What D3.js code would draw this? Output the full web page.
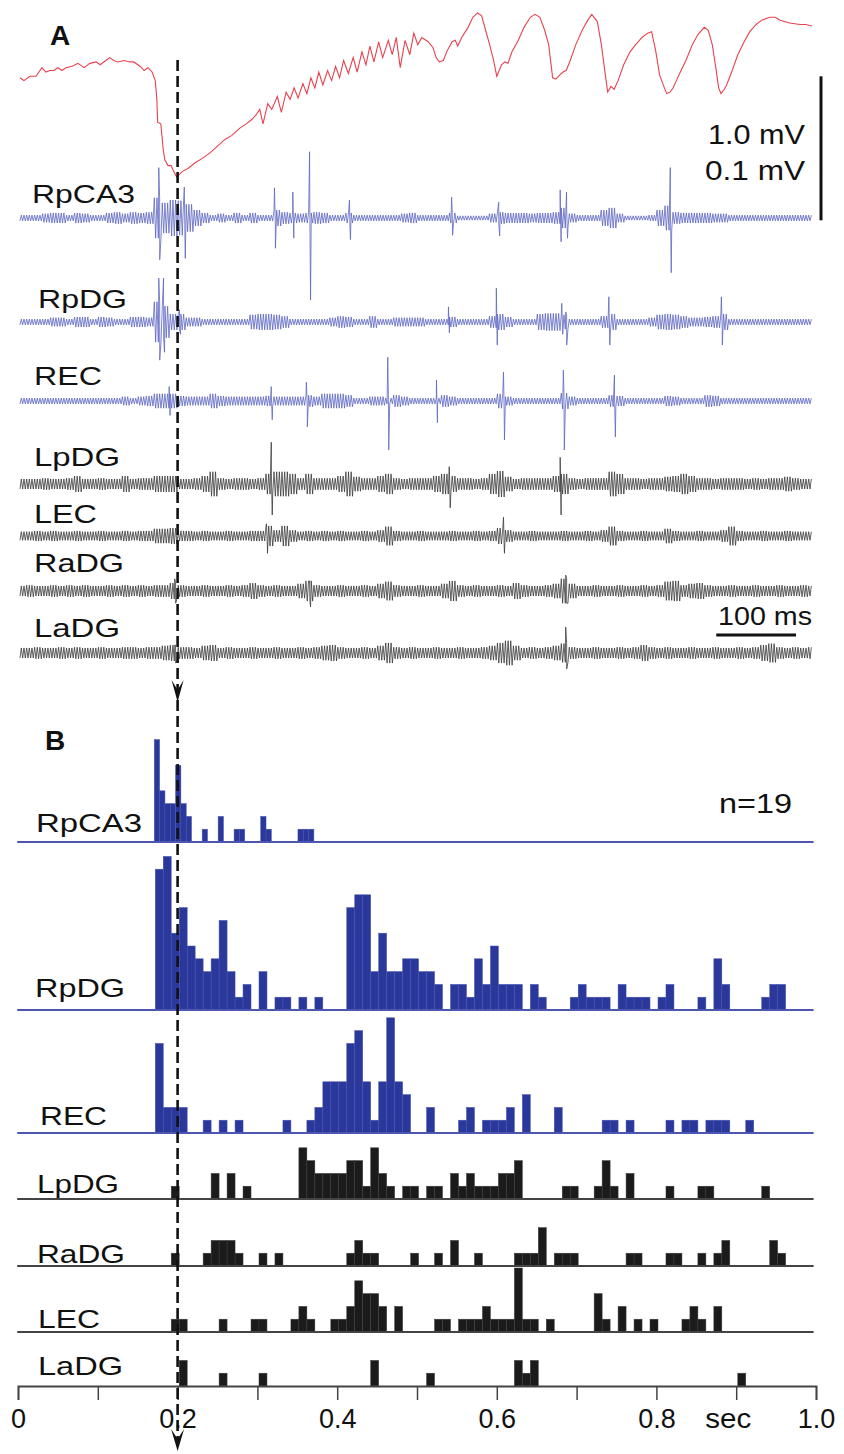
<!DOCTYPE html>
<html><head><meta charset="utf-8">
<script src="https://cdn.jsdelivr.net/npm/d3@7"></script>
<style>html,body{margin:0;padding:0;background:#fff;}svg{display:block;font-family:"Liberation Sans",Arial,sans-serif;}</style>
</head><body><svg id="c" width="844" height="1454"></svg>
<script>
// ---------------- DATA ----------------
// Panel A: surface/EEG trace (red), time in ms, value in mV
const redTimeMs = [2.5,7.5,15,22.6,30,35,40,45,50,55,60,68,75,83,90,98,103,110,115,120,125,133,140,145,153,158,163,168,172,174,175,179,182,184,188,192,195,199,206,213,222,231,241,251,259,268,278,286,293,298,303,307,313,318,325,330,336,341,346,351,357,362,367,372,377,382,388,393,398,403,408,414,420,425,431,436,441,446,452,457,464,469,474,479,485,491,496,501,506,514,520,524,528,533,538,544,548,551,556,564,570,576,581,586,591,596,600,603,606,610,614,619,627,634,642,648,654,660,665,670,674,679,683,687,692,699,707,714,719,726,731,736,739,743,747,752,759,767,774,782,789,794,799,804,810,813,817,821,825,830,837,845,852,860,865,870,875,878,881,885,888,895,902,910,917,925,932,942,949,955,967,980,987,995];
const redMv = [0.71,0.69,0.72,0.72,0.78,0.75,0.76,0.76,0.78,0.76,0.78,0.79,0.81,0.78,0.81,0.82,0.80,0.83,0.85,0.83,0.82,0.83,0.82,0.82,0.79,0.76,0.78,0.75,0.69,0.56,0.40,0.39,0.21,0.14,0.10,0.10,0.06,0.02,0.06,0.08,0.12,0.15,0.19,0.24,0.28,0.31,0.36,0.39,0.42,0.45,0.49,0.39,0.53,0.49,0.58,0.47,0.61,0.56,0.64,0.57,0.67,0.60,0.71,0.64,0.75,0.66,0.76,0.69,0.79,0.71,0.83,0.74,0.85,0.75,0.89,0.80,0.93,0.82,0.96,0.85,0.97,0.87,0.99,0.78,0.97,0.87,1.02,0.94,0.99,0.96,0.92,0.85,0.82,0.83,0.90,0.96,0.97,0.93,0.99,1.06,1.13,1.16,1.14,1.04,0.94,0.83,0.72,0.76,0.80,0.82,0.81,0.89,0.97,1.06,1.13,1.15,1.13,1.04,0.94,0.71,0.70,0.73,0.75,0.76,0.83,0.94,1.04,1.11,1.15,1.10,0.94,0.73,0.61,0.65,0.63,0.69,0.80,0.89,0.94,0.99,1.02,1.03,0.90,0.73,0.64,0.60,0.61,0.64,0.69,0.75,0.83,0.94,1.01,1.06,1.04,0.94,0.76,0.64,0.60,0.63,0.66,0.76,0.87,0.96,1.03,1.08,1.11,1.13,1.13,1.11,1.09,1.08,1.08,1.07];

// Panel A: depth traces, amplitude envelope (µV) per 10 ms bin, 0..1 s
const traceNames = ["RpCA3","RpDG","REC","LpDG","LEC","RaDG","LaDG"];
const envRpCA3 = [2,2,2,3,3.5,3.5,2,3.5,3,2, 2,3.5,4,3,4,3.5,4,14,10.5,12.5, 12,9.5,5.5,3.5,2,3,2,3.5,2,3.5, 2,2,5.5,4,3.5,3,3.5,4,3.5,2, 2,3.5,2,2,2,2,2,2,3,3.5, 2,2,2,2,3.5,1.5,1.5,1.5,1.5,3, 4,3.5,3.5,3.5,3,3.5,3.5,4,7,3, 2,2,2,5.5,7,3,1.5,1.5,1.5,2, 5.5,8.5,4,3.5,3.5,3.5,3.5,3,3,2, 2,2,2,2,2,2,2,2,2,2];
const envRpDG = [2,2,2,2,3,3,2,3.5,3.5,2, 3.5,3,2,2,3.5,3.5,3,14,11,5.5, 5.5,3,3,2,2,2,2,2,2,5, 5.5,5.5,5,4,2,2,2,2,2,3, 4,3.5,2,2,4,2,2,3,3,3, 3,2,2,2,3.5,2,2,2,2,4, 5.5,3.5,2,2,2,5.5,6,6,5,2, 2,2,2,4,5.5,2,2,2,2,3, 5,5.5,5,4,3,3,3.5,4,5.5,2, 2,2,2,2,2,2,2,2,2,2];
const envREC = [2,2,2,2,2,2,2,2,2,2, 2,2,2,3,2,3,3.5,5,5,5, 3.5,3,3,3,5,3.5,3,3,3,3, 3,3.5,3,3,3,3,4,3,5,5, 5,4,2,2,3,3,2,4,3,2, 2,2,2,4,3,2,2,2,2,2, 5,3,2,2,2,2,2,2,5.5,3, 2,2,2,2,4,3.5,2,2,2,2, 2,3.5,3,2,2,2,4,3.5,2,2, 2,2,2,2,2,2,2,2,2,2];
const envLpDG = [3.5,3.5,3.5,4,3.5,3.5,4,5.5,3.5,3.5, 4,3.5,3.5,5.5,3.5,4,4,5.5,5.5,5.5, 3.5,3.5,4,5.5,8.5,4,3.5,4,4,3.5, 4,7,8.5,8.5,7,4,7,4,4,4, 5.5,8.5,5,4,4,5.5,7,4,3.5,4, 4,4,5.5,7,5.5,4,4,3.5,4,7, 9,5,3.5,4,4,4,4,5.5,7,4, 3.5,4,4,4,8.5,7,4,4,3.5,4, 4,5,5.5,7,5.5,4,4,3.5,4,4, 4,3.5,4,3.5,4,4,5,4,3.5,3.5];
const envLEC = [3,3,3.5,3,3.5,3,3,3.5,3,3, 3.5,3,3,3.5,3,3.5,3.5,5,5,5.5, 3.5,3.5,3,3.5,3,3,3.5,3,3,3.5, 3.5,7,4,7,4,3,3.5,3,3.5,3, 3.5,3,3,3.5,3,4,6.5,3.5,3,3, 3.5,3,3,3,3.5,3,3,3.5,3,3.5, 5.5,4,3,3,3.5,3,3,3,3.5,3, 3,3.5,3,4,6.5,3.5,3,3,3.5,3, 3,5,3.5,3,3,3.5,3,3,4,6.5, 3.5,3,3,3.5,3,3,3.5,3,3,3];
const envRaDG = [3.5,4,3.5,3.5,4,3.5,4,3.5,4,3.5, 3.5,4,3.5,4,3.5,4,3.5,4,4,5.5, 4,3.5,3.5,4,3.5,3.5,4,3.5,4,5.5, 4,3.5,4,3.5,3.5,5,7,4,3.5,3.5, 4,3.5,3.5,4,3.5,5,6.5,4,3.5,3.5, 4,3.5,3.5,5,7,4,3.5,4,3.5,3.5, 4,3.5,5.5,4,3.5,3.5,4,5,8.5,5, 3.5,3.5,4,3.5,3.5,4,3.5,3.5,4,3.5, 4,6.5,7,4,5,5.5,4,3.5,3.5,4, 3.5,3.5,4,3.5,3.5,4,3.5,3.5,4,3.5];
const envLaDG = [3.5,3.5,4,3.5,3.5,4,3.5,4,3.5,3.5, 4,3.5,3.5,4,4,3.5,4,4,5,5.5, 4,4,3.5,5,5.5,3.5,4,3.5,3.5,4, 3.5,3.5,4,3.5,3.5,4,3.5,4,5,5.5, 4,3.5,3.5,4,3.5,5,7,4,3.5,4, 3.5,3.5,4,3.5,3.5,4,3.5,3.5,4,5, 7,8.5,5,3.5,4,3.5,4,5,6.5,4, 3.5,3.5,4,3.5,3.5,4,3.5,4,5.5,4, 3.5,4,3.5,3.5,4,3.5,3.5,4,3.5,3.5, 4,3.5,4,5.5,6.5,4,3.5,4,3.5,4];
// isolated large deflections: [time s, upward µV, downward µV]
const spkRpCA3 = [[0.177,35,29],[0.209,21.5,28],[0.322,21,21],[0.345,18,14],[0.366,46,57],[0.416,12.5,15],[0.544,14.5,12],[0.603,11,12.5],[0.680,19.5,16.5],[0.688,18,14],[0.818,35,38]];
const spkRpDG = [[0.177,30.5,26.5],[0.183,30.5,21],[0.203,8.5,8.5],[0.540,10.5,7.5],[0.600,23.5,16],[0.682,13,8.5],[0.687,7,16],[0.741,17.5,16],[0.882,17.5,16]];
const spkREC = [[0.190,10,10],[0.318,10,13],[0.362,13,18],[0.464,30.5,34],[0.525,14.5,15],[0.609,20,27],[0.684,21.5,34],[0.748,18,25]];
const spkLpDG = [[0.318,29,21.5],[0.541,12,16.5],[0.680,18.5,21.5]];
const spkLEC = [[0.312,8.5,12],[0.609,13,12]];
const spkRaDG = [[0.197,8.5,8.5],[0.366,7,11],[0.687,11,8.5]];
const spkLaDG = [[0.197,5.5,7],[0.687,18,11]];

// Panel B: peri-event histograms, [bin index, count]
const histNames = ["RpCA3","RpDG","REC","LpDG","RaDG","LEC","LaDG"];
const histRpCA3 = [[0,8],[1,4],[2,3],[3,3],[4,6],[5,3],[6,2],[9,1],[12,2],[15,1],[16,1],[20,2],[21,1],[27,1],[28,1],[29,1]];
const histRpDG = [[0,11],[1,12],[2,6],[3,8],[4,5],[5,4],[6,3],[7,4],[8,7],[9,3],[10,1],[11,2],[13,3],[15,1],[16,1],[18,1],[20,1],[24,8],[25,9],[26,9],[27,3],[28,6],[29,3],[30,3],[31,4],[32,4],[33,3],[34,3],[35,2],[37,2],[38,2],[39,1],[40,4],[41,2],[42,5],[43,2],[44,2],[45,2],[47,2],[48,1],[52,1],[53,2],[54,1],[55,1],[56,1],[58,2],[59,1],[60,1],[61,1],[63,1],[64,2],[68,1],[70,4],[71,2],[76,1],[77,2],[78,2]];
const histREC = [[0,7],[1,2],[2,2],[3,2],[6,1],[8,1],[10,1],[16,1],[19,1],[20,2],[21,4],[22,4],[23,4],[24,7],[25,8],[26,4],[27,1],[28,4],[29,9],[30,4],[31,3],[34,2],[38,1],[39,2],[41,1],[42,1],[43,1],[44,2],[46,3],[50,2],[56,1],[57,1],[59,1],[64,1],[66,1],[67,1],[69,1],[70,1],[71,1],[74,1]];
const histLpDG = [[2,1],[7,2],[9,2],[11,1],[18,4],[19,3],[20,2],[21,2],[22,2],[23,2],[24,3],[25,3],[26,1],[27,4],[28,2],[29,1],[31,1],[32,1],[34,1],[35,1],[37,2],[38,1],[39,2],[40,1],[41,1],[42,1],[43,2],[44,2],[45,3],[51,1],[52,1],[55,1],[56,3],[57,1],[59,2],[64,1],[68,1],[69,1],[76,1]];
const histRaDG = [[2,1],[6,1],[7,2],[8,2],[9,2],[10,1],[13,1],[15,1],[24,1],[25,2],[26,1],[27,1],[32,1],[35,1],[37,2],[40,1],[45,1],[46,1],[47,1],[48,3],[50,1],[51,1],[52,1],[59,1],[60,1],[64,1],[65,1],[68,1],[70,1],[71,2],[77,2],[78,1]];
const histLEC = [[2,1],[3,1],[8,1],[12,1],[13,1],[17,1],[18,2],[19,1],[22,1],[23,1],[24,2],[25,4],[26,3],[27,3],[28,2],[30,2],[35,1],[36,1],[38,1],[39,1],[40,1],[41,2],[42,1],[43,1],[44,1],[45,5],[46,1],[47,1],[49,1],[55,3],[56,1],[58,2],[60,1],[62,1],[66,1],[67,2],[68,1],[70,2]];
const histLaDG = [[3,2],[8,1],[13,1],[27,2],[34,1],[45,2],[46,1],[47,2],[73,1]];

const tickValues = [0,0.1,0.2,0.3,0.4,0.5,0.6,0.7,0.8,0.9,1.0];
const tickLabels = ["0","","0.2","","0.4","","0.6","","0.8","","1.0"];
const eventTime = 0.2;
const nText = "n=19";

// ---------------- LAYOUT ----------------
const svg = d3.select("#c");
const x = d3.scaleLinear().domain([0,1]).range([18,816]);
const BIN_A = 0.01;          // envelope bin for traces
const BIN_B = 0.01, START_B = 0.172;
const BIN_CA3 = 1/150, START_CA3 = 0.1708;
const UNIT = 12.8;            // px per count
const BLUE_FILL = "#2b389b", BLUE_LINE = "#4d57b2", TRACE_BLUE = "#5d66c2", TRACE_BLACK = "#3a3a3a";

function label(xp, yp, txt, size, w, weight) {
  const t = svg.append("text").attr("x", xp).attr("y", yp).text(txt)
    .attr("font-size", size).attr("fill", "#111");
  if (weight) t.attr("font-weight", weight);
  if (w) t.attr("textLength", w).attr("lengthAdjust", "spacingAndGlyphs");
  return t;
}

// red trace
const yRed = d3.scaleLinear().domain([0,1]).range([180,36]);
svg.append("path")
  .attr("d", d3.line().x((d,i)=>x(redTimeMs[i]/1000)).y(d=>yRed(d))(redMv))
  .attr("fill","none").attr("stroke","#e8424e").attr("stroke-width",1.1);

// depth traces
const traceCenters = [218,322,401,484,536,591,653];
const envs = [envRpCA3,envRpDG,envREC,envLpDG,envLEC,envRaDG,envLaDG];
const spks = [spkRpCA3,spkRpDG,spkREC,spkLpDG,spkLEC,spkRaDG,spkLaDG];
const PX_PER_UV = 1.44; // 0.1 mV = 144 px
traceNames.forEach((name, k) => {
  const yT = d3.scaleLinear().domain([-100,100]).range([traceCenters[k] + 100*PX_PER_UV, traceCenters[k] - 100*PX_PER_UV]);
  const pts = [];
  const sub = 6;
  envs[k].forEach((a, i) => {
    for (let j = 0; j < sub; j++) {
      pts.push([(i + (j + 0.5)/sub) * BIN_A, j % 2 === 0 ? a : -a]);
    }
  });
  spks[k].forEach(([t, up, dn]) => { pts.push([t - 0.0006, up]); pts.push([t + 0.0006, -dn]); });
  pts.sort((a,b)=>a[0]-b[0]);
  const clipped = pts.filter(p => p[0] >= 0.0025 && p[0] <= 0.995);
  svg.append("path")
    .attr("d", d3.line().x(p=>x(p[0])).y(p=>yT(p[1]))(clipped))
    .attr("fill","none").attr("stroke", k < 3 ? TRACE_BLUE : TRACE_BLACK)
    .attr("stroke-width",0.8).attr("stroke-linejoin","round");
});

// panel A labels
label(50,45,"A",28,null,"bold");
const aLabelPos = [[32,203,103],[38,308,89],[34,385,68],[34,466,86],[34,523,63],[34,572,90],[34,637,86]];
traceNames.forEach((n,k)=>label(aLabelPos[k][0],aLabelPos[k][1],n,26,aLabelPos[k][2]));

// vertical scale bar
svg.append("line").attr("x1",821).attr("x2",821).attr("y1",yRed(0.72)).attr("y2",yRed(-0.28))
  .attr("stroke","#111").attr("stroke-width",3);
label(708,144,"1.0 mV",27,97);
label(705,180,"0.1 mV",27,100);
// 100 ms bar
svg.append("line").attr("x1",x(0.875)).attr("x2",x(0.975)).attr("y1",635).attr("y2",635)
  .attr("stroke","#111").attr("stroke-width",3);
label(718,625,"100 ms",26,94);

// ---------------- PANEL B ----------------
label(45,750,"B",28,null,"bold");
label(719,813,nText,28,73);
const histBase = [842,1010,1133,1199,1266,1332,1386];
const hists = [histRpCA3,histRpDG,histREC,histLpDG,histRaDG,histLEC,histLaDG];
const bLabelPos = [[36,832,106],[35,997,90],[40,1125,67],[37,1193,82],[37,1263,88],[38,1328,62],[38,1375,85]];
histNames.forEach((name,k)=>{
  const blue = k < 3;
  const yH = d3.scaleLinear().domain([0,1]).range([histBase[k], histBase[k]-UNIT]);
  const bw = k === 0 ? BIN_CA3 : BIN_B, st = k === 0 ? START_CA3 : START_B;
  svg.append("g").selectAll("rect").data(hists[k]).join("rect")
    .attr("x", d=>x(st + d[0]*bw))
    .attr("width", d=>x(st + (d[0]+1)*bw) - x(st + d[0]*bw))
    .attr("y", d=>yH(d[1]))
    .attr("height", d=>yH(0)-yH(d[1]))
    .attr("fill", blue ? BLUE_FILL : "#1b1b1b")
    .attr("stroke", blue ? "#4653ad" : "#3c3c3c").attr("stroke-width",0.5);
  if (k < 6) {
    svg.append("line").attr("x1",x(-0.001)).attr("x2",x(0.997)).attr("y1",histBase[k]).attr("y2",histBase[k])
      .attr("stroke", blue ? BLUE_LINE : "#444").attr("stroke-width",1.8);
  }
  label(bLabelPos[k][0],bLabelPos[k][1],name,26,bLabelPos[k][2]);
});

// time axis
const axis = d3.axisBottom(x).tickValues(tickValues).tickSize(14).tickFormat((d,i)=>tickLabels[i]);
const gAx = svg.append("g").attr("transform","translate(0,1386)").call(axis);
gAx.select(".domain").attr("stroke","#444").attr("stroke-width",1.8);
gAx.selectAll(".tick line").attr("stroke","#444").attr("stroke-width",1.5);
gAx.selectAll(".tick text").attr("font-size",27).attr("fill","#111")
  .attr("font-family","'Liberation Sans',Arial,sans-serif").attr("dy",0).attr("y",42);
label(x(0.89)-23,1428,"sec",27,46);

// dashed event line with arrowheads
const xe = x(eventTime);
svg.append("line").attr("x1",xe).attr("x2",xe).attr("y1",60).attr("y2",1440)
  .attr("stroke","#111").attr("stroke-width",2.6).attr("stroke-dasharray","11,5");
function arrowHead(tipY, w, h) {
  svg.append("path").attr("d",`M${xe-w/2},${tipY-h} L${xe},${tipY-h*0.55} L${xe+w/2},${tipY-h} L${xe},${tipY} Z`)
    .attr("fill","#111");
}
arrowHead(702,12,22);
arrowHead(1451,13,22);
</script></body></html>
